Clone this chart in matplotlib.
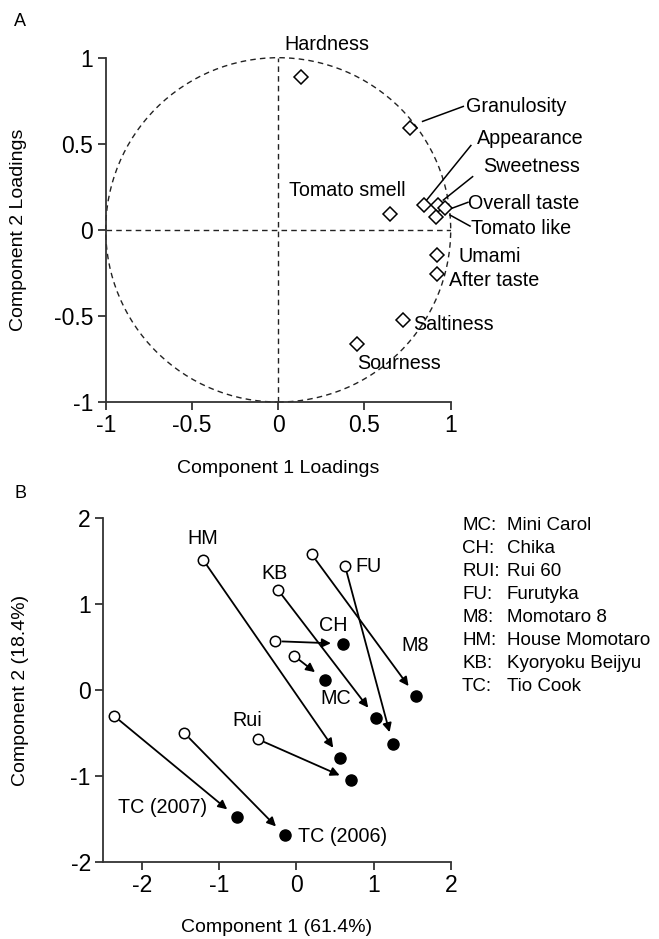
import numpy as np
import matplotlib
matplotlib.use("Agg")
import matplotlib.pyplot as plt
from matplotlib.patches import Circle

plt.rcParams['font.family'] = ['Liberation Sans', 'DejaVu Sans']
plt.rcParams['axes.unicode_minus'] = False

# ---------------- Panel A data: loadings ----------------
attributes = ["Hardness", "Granulosity", "Tomato smell", "Appearance", "Sweetness",
              "Overall taste", "Tomato like", "Umami", "After taste", "Saltiness", "Sourness"]
load_pc1 = [0.13, 0.764, 0.648, 0.845, 0.928, 0.967, 0.915, 0.919, 0.919, 0.725, 0.459]
load_pc2 = [0.89, 0.590, 0.092, 0.144, 0.144, 0.125, 0.076, -0.147, -0.257, -0.524, -0.664]

# ---------------- Panel B data: scores ----------------
cultivars = ["MC", "CH", "Rui", "FU", "M8", "HM", "KB", "TC (2007)", "TC (2006)"]
start_pc1 = [-0.03, -0.27, -0.50, 0.63, 0.20, -1.21, -0.24, -2.36, -1.45]
start_pc2 = [0.40, 0.57, -0.57, 1.45, 1.58, 1.52, 1.17, -0.30, -0.50]
end_pc1 = [0.37, 0.61, 0.71, 1.25, 1.55, 0.57, 1.03, -0.77, -0.15]
end_pc2 = [0.12, 0.54, -1.05, -0.63, -0.07, -0.79, -0.32, -1.48, -1.69]

legend_codes = ["MC:", "CH:", "RUI:", "FU:", "M8:", "HM:", "KB:", "TC:"]
legend_names = ["Mini Carol", "Chika", "Rui 60", "Furutyka", "Momotaro 8",
                "House Momotaro", "Kyoryoku Beijyu", "Tio Cook"]

yticks_A = [-1, -0.5, 0, 0.5, 1]
xticks_A = [-1, -0.5, 0, 0.5, 1]
yticks_B = [-2, -1, 0, 1, 2]
xticks_B = [-2, -1, 0, 1, 2]

W, H = 659, 939
fig = plt.figure(figsize=(W / 100, H / 100), dpi=100)

spine_col = "#333333"
TICK_FS = 16.5
LAB_FS = 14.2
AXLAB_FS = 14
LEG_FS = 13.5


def px_axes(left, top, right, bottom):
    return fig.add_axes([left / W, 1 - bottom / H, (right - left) / W, (bottom - top) / H])


def style_axes(ax):
    for s in ["top", "right"]:
        ax.spines[s].set_visible(False)
    for s in ["left", "bottom"]:
        ax.spines[s].set_color(spine_col)
        ax.spines[s].set_linewidth(1.3)
    ax.tick_params(direction="out", length=6, width=1.3, color=spine_col,
                   labelsize=TICK_FS, pad=3)


def fmt(v):
    return "%g" % v

# ---------------- Panel A ----------------
axA = px_axes(105.7, 57.7, 450.7, 402)
style_axes(axA)
axA.set_xlim(-1, 1)
axA.set_ylim(-1, 1)
axA.set_xticks(xticks_A)
axA.set_xticklabels([fmt(v) for v in xticks_A])
axA.set_yticks(yticks_A)
axA.set_yticklabels([fmt(v) for v in yticks_A])
axA.add_patch(Circle((0, 0), 1, fill=False, ls=(0, (4, 3)), lw=1.0, color="#222222", clip_on=False))
axA.plot([-1, 1], [0, 0], ls=(0, (4, 3)), lw=1.0, color="#222222")
axA.plot([0, 0], [-1, 1], ls=(0, (4, 3)), lw=1.0, color="#222222")
axA.plot(load_pc1, load_pc2, ls="none", marker="D", ms=7, mfc="white", mec="black", mew=1.1,
         clip_on=False, zorder=5)

# label positions (text anchor) and leader lines
label_pos = {
    "Hardness": (0.283, 1.078, "center"),
    "Granulosity": (1.089, 0.716, "left"),
    "Tomato smell": (0.40, 0.231, "center"),
    "Appearance": (1.15, 0.532, "left"),
    "Sweetness": (1.19, 0.367, "left"),
    "Overall taste": (1.102, 0.154, "left"),
    "Tomato like": (1.116, 0.009, "left"),
    "Umami": (1.044, -0.156, "left"),
    "After taste": (0.992, -0.292, "left"),
    "Saltiness": (0.783, -0.548, "left"),
    "Sourness": (0.455, -0.776, "left"),
}
leaders = {
    "Granulosity": ((0.837, 0.630), (1.073, 0.717)),
    "Appearance": ((0.859, 0.171), (1.117, 0.490)),
    "Sweetness": ((0.957, 0.173), (1.127, 0.309)),
    "Overall taste": ((1.006, 0.125), (1.100, 0.160)),
    "Tomato like": ((0.996, 0.086), (1.112, 0.022)),
}
for name in attributes:
    x, y, ha = label_pos[name]
    axA.text(x, y, name, ha=ha, va="center", fontsize=LAB_FS, clip_on=False)
for name, (p0, p1) in leaders.items():
    axA.plot([p0[0], p1[0]], [p0[1], p1[1]], color="black", lw=1.1, clip_on=False)

fig.text(20 / W, 1 - 21.7 / H, "A", ha="center", va="center", fontsize=13)
fig.text(278 / W, 1 - 468 / H, "Component 1 Loadings", ha="center", va="center", fontsize=AXLAB_FS)
fig.text(19 / W, 1 - 230 / H, "Component 2 Loadings", ha="center", va="center",
         rotation=90, fontsize=AXLAB_FS)

# ---------------- Panel B ----------------
axB = px_axes(103.3, 518.3, 450.7, 862)
style_axes(axB)
axB.set_xlim(-2.5, 2)
axB.set_ylim(-2, 2)
axB.set_xticks(xticks_B)
axB.set_xticklabels([fmt(v) for v in xticks_B])
axB.set_yticks(yticks_B)
axB.set_yticklabels([fmt(v) for v in yticks_B])

for i in range(len(cultivars)):
    axB.annotate("", xy=(end_pc1[i], end_pc2[i]), xytext=(start_pc1[i], start_pc2[i]),
                 arrowprops=dict(arrowstyle="-|>", color="black", lw=1.3,
                                 mutation_scale=13, shrinkA=5, shrinkB=9))
axB.plot(start_pc1, start_pc2, ls="none", marker="o", ms=7.5, mfc="white", mec="black",
         mew=1.1, zorder=5, clip_on=False)
axB.plot(end_pc1, end_pc2, ls="none", marker="o", ms=8, mfc="black", mec="black",
         zorder=5, clip_on=False)

b_labels = {
    "HM": (-1.21, 1.76, "center"),
    "KB": (-0.28, 1.36, "center"),
    "FU": (0.77, 1.44, "left"),
    "CH": (0.48, 0.75, "center"),
    "M8": (1.54, 0.52, "center"),
    "MC": (0.51, -0.10, "center"),
    "Rui": (-0.63, -0.35, "center"),
    "TC (2007)": (-1.73, -1.36, "center"),
    "TC (2006)": (0.02, -1.70, "left"),
}
for name in cultivars:
    x, y, ha = b_labels[name]
    axB.text(x, y, name, ha=ha, va="center", fontsize=LAB_FS, clip_on=False)

fig.text(20 / W, 1 - 493 / H, "B", ha="center", va="center", fontsize=13)
fig.text(277 / W, 1 - 928 / H, "Component 1 (61.4%)", ha="center", va="center", fontsize=AXLAB_FS)
fig.text(21 / W, 1 - 690 / H, "Component 2 (18.4%)", ha="center", va="center",
         rotation=90, fontsize=AXLAB_FS)

for i, (c, n) in enumerate(zip(legend_codes, legend_names)):
    y = 1 - (525 + 23.1 * i) / H
    fig.text(462 / W, y, c, ha="left", va="center", fontsize=LEG_FS)
    fig.text(507 / W, y, n, ha="left", va="center", fontsize=LEG_FS)

fig.savefig("out.png", dpi=100)
